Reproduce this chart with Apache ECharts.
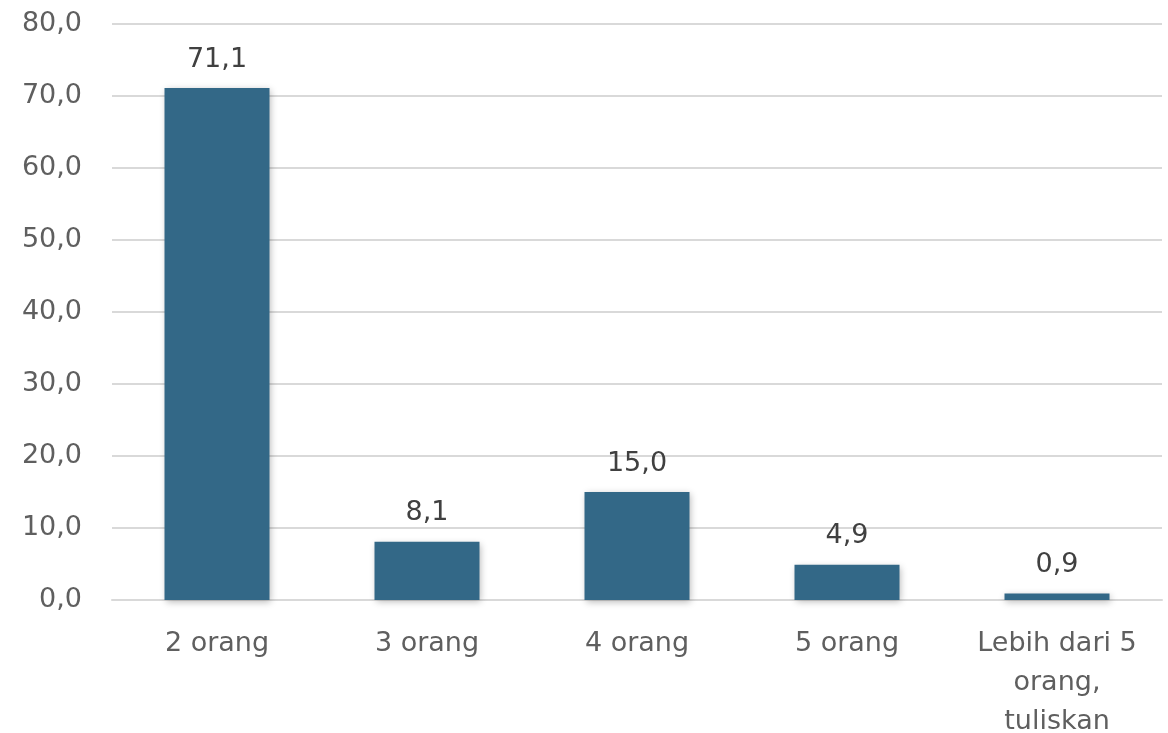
<!DOCTYPE html>
<html><head><meta charset="utf-8">
<script src="https://cdn.jsdelivr.net/npm/echarts@6/dist/echarts.min.js"></script>
<style>html,body{margin:0;padding:0;background:#fff}#c{width:1168px;height:733px}</style>
</head><body><div id="c"></div>
<script>
const categories = ['2 orang', '3 orang', '4 orang', '5 orang', 'Lebih dari 5\norang,\ntuliskan'];
const values = [71.1, 8.1, 15.0, 4.9, 0.9];
const yTicks = { min: 0, max: 80, interval: 10 };
const fmt = v => v.toFixed(1).replace('.', ',');
const chart = echarts.init(document.getElementById('c'), null, { renderer: 'canvas' });
const font = '"DejaVu Sans", sans-serif';
chart.setOption({
  animation: false,
  grid: { left: 112, right: 6, top: 24, bottom: 133, containLabel: false, outerBoundsMode: 'none' },
  xAxis: {
    type: 'category', data: categories,
    axisLine: { show: true, lineStyle: { color: '#d9d9d9', width: 2 } },
    axisTick: { show: false },
    axisLabel: { color: '#5f5f5f', fontSize: 27, fontFamily: font, margin: 24, lineHeight: 39, interval: 0 }
  },
  yAxis: {
    type: 'value', min: yTicks.min, max: yTicks.max, interval: yTicks.interval,
    axisLine: { show: false }, axisTick: { show: false },
    splitLine: { lineStyle: { color: '#d9d9d9', width: 2 } },
    axisLabel: { color: '#5f5f5f', fontSize: 27, fontFamily: font, margin: 30, formatter: v => fmt(v) }
  },
  series: [{
    type: 'bar', data: values, barWidth: '50%',
    itemStyle: { color: '#336887', shadowColor: 'rgba(0,0,0,0.28)', shadowBlur: 7, shadowOffsetX: 1, shadowOffsetY: 2 },
    label: { show: true, position: 'top', distance: 15, color: '#404040', fontSize: 27, fontFamily: font, formatter: p => fmt(p.value) }
  }]
});
</script></body></html>
